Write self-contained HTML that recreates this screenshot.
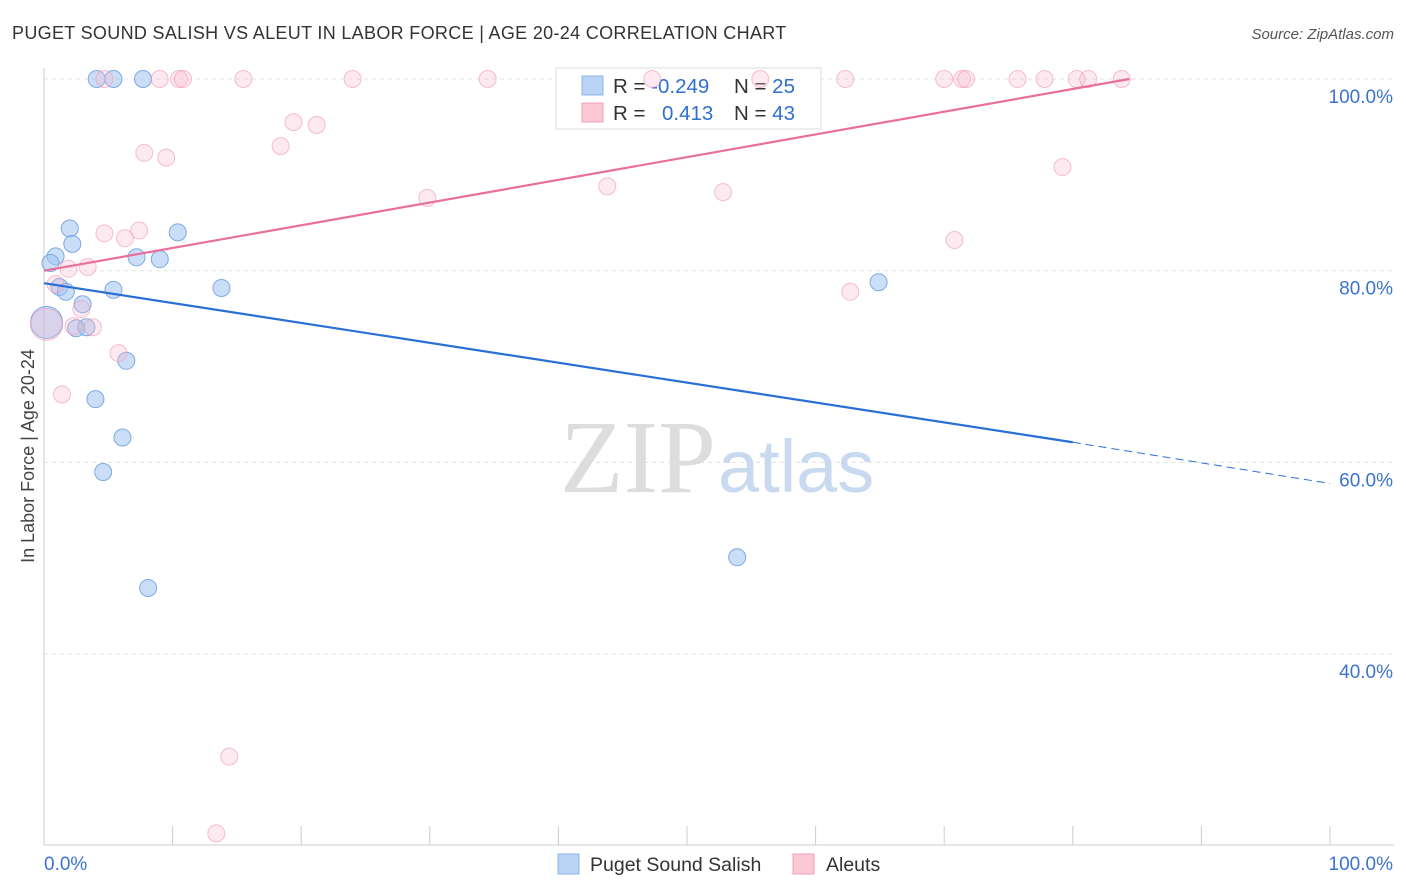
<!DOCTYPE html>
<html><head><meta charset="utf-8"><style>
body{margin:0;background:#fff;font-family:"Liberation Sans",sans-serif;}
svg{display:block}
</style></head><body>
<svg id="chart" width="1406" height="892">
<text x="12" y="39" font-size="18" fill="#333" letter-spacing="0.32">PUGET SOUND SALISH VS ALEUT IN LABOR FORCE | AGE 20-24 CORRELATION CHART</text>
<text x="1394" y="39" font-size="15" fill="#555" font-style="italic" text-anchor="end">Source: ZipAtlas.com</text>
<text x="34" y="456" font-size="18" fill="#444" transform="rotate(-90 34 456)" text-anchor="middle">In Labor Force | Age 20-24</text>
<g id="grid"></g>
<text x="716" y="492" font-size="104" fill="#ddd" text-anchor="end" font-family="Liberation Serif,serif">ZIP</text>
<text x="718" y="492" font-size="74" fill="#c9d9f0">atlas</text>
<g>
<rect x="556" y="68" width="265" height="61" fill="#fff" stroke="#ddd"/>
<rect x="582" y="76" width="21" height="19" fill="#b9d3f5" stroke="#8db4e8"/>
<rect x="582" y="103" width="21" height="19" fill="#fcc8d6" stroke="#f0a0b8"/>
<text x="613" y="93" font-size="20.5" fill="#333">R = <tspan fill="#2f6fd0">-0.249</tspan></text>
<text x="734" y="93" font-size="20.5" fill="#333">N = <tspan fill="#2f6fd0">25</tspan></text>
<text x="613" y="120" font-size="20.5" fill="#333">R = <tspan fill="#2f6fd0" x="662">0.413</tspan></text>
<text x="734" y="120" font-size="20.5" fill="#333">N = <tspan fill="#2f6fd0">43</tspan></text>
</g>
<g id="marks"></g>
<g>
<rect x="558" y="854" width="21" height="20" fill="#b9d3f5" stroke="#8db4e8"/>
<text x="590" y="871" font-size="19.5" fill="#333">Puget Sound Salish</text>
<rect x="793" y="854" width="21" height="20" fill="#fcc8d6" stroke="#f0a0b8"/>
<text x="826" y="871" font-size="19.5" fill="#333">Aleuts</text>
</g>
<text x="44" y="870" font-size="19" fill="#3b73d0">0.0%</text>
<text x="1393" y="870" font-size="19" fill="#3b73d0" text-anchor="end">100.0%</text>
</svg>
<script>
const yTicks=[100,80,60,40];
const blueX=[4.1,5.4,7.7,0.9,0.5,2.0,2.2,1.2,1.7,3.0,2.5,3.3,5.4,7.2,9.0,10.4,13.8,6.4,4.0,6.1,4.6,8.1,53.9,64.9,0.2];
const blueY=[100,100,100,81.5,80.8,84.4,82.8,78.3,77.8,76.5,74.0,74.1,78.0,81.4,81.2,84.0,78.2,70.6,66.6,62.6,59.0,46.9,50.1,78.8,74.6];
const pinkX=[4.7,9.0,10.5,10.8,15.5,24.0,34.5,47.3,55.7,62.3,70.0,71.4,71.7,75.7,77.8,80.3,81.2,83.8,19.4,21.2,18.4,7.8,9.5,29.8,43.8,52.8,79.2,70.8,62.7,4.7,6.3,7.4,1.9,3.4,0.9,2.9,2.3,3.8,5.8,1.4,14.4,13.4,0.2];
const pinkY=[100,100,100,100,100,100,100,100,100,100,100,100,100,100,100,100,100,100,95.5,95.2,93.0,92.3,91.8,87.6,88.8,88.2,90.8,83.2,77.8,83.9,83.4,84.2,80.2,80.4,78.6,76.0,74.2,74.1,71.4,67.1,29.3,21.3,74.4];
const blueTrend=[78.7,62.1,57.8]; // at x=0, 80, 100
const pinkTrend=[80.0,100]; // at x=0, 84.4
const pinkTrendEnd=84.4;
const X=v=>44+v*12.86, Y=v=>79+(100-v)*9.585;
const NS='http://www.w3.org/2000/svg';
const mk=(t,a,p)=>{const e=document.createElementNS(NS,t);for(const k in a)e.setAttribute(k,a[k]);p.appendChild(e);return e;};
const g=document.getElementById('grid'),m=document.getElementById('marks');
mk('line',{x1:44,y1:68,x2:44,y2:845,stroke:'#ccc'},g);
mk('line',{x1:44,y1:845,x2:1394,y2:845,stroke:'#ccc'},g);
for(let i=0;i<=10;i++){const l=mk('line',{x1:X(i*10),y1:826,x2:X(i*10),y2:845,stroke:'#ccc'},g);

}
yTicks.forEach(t=>{const l=mk('line',{x1:44,y1:Y(t),x2:1394,y2:Y(t),stroke:'#e3e3e3','stroke-dasharray':'4,4'},g);


const tx=mk('text',{x:1393,y:Y(t)+24,'font-size':19,fill:'#3b73d0','text-anchor':'end'},g);tx.textContent=t.toFixed(1)+'%';

});
blueX.forEach((v,i)=>{const big=i===blueX.length-1;const c=mk('circle',{cx:X(v),cy:Y(blueY[i]),r:big?16:8.5,fill:'rgba(160,195,240,0.55)',stroke:'#7fa9e2','stroke-width':1},m);

});
pinkX.forEach((v,i)=>{const big=i===pinkX.length-1;const c=mk('circle',{cx:X(v),cy:Y(pinkY[i]),r:big?16:8.5,fill:'rgba(248,185,205,0.3)',stroke:'rgba(240,150,180,0.6)','stroke-width':1},m);

});
let l=mk('line',{x1:X(0),y1:Y(blueTrend[0]),x2:X(80),y2:Y(blueTrend[1]),stroke:'#2a6fd6','stroke-width':2.2},m);


l=mk('line',{x1:X(80),y1:Y(blueTrend[1]),x2:X(100),y2:Y(blueTrend[2]),stroke:'#2a6fd6','stroke-width':1,'stroke-dasharray':'8,5'},m);


l=mk('line',{x1:X(0),y1:Y(pinkTrend[0]),x2:X(pinkTrendEnd),y2:Y(pinkTrend[1]),stroke:'#e8709a','stroke-width':2.2},m);


</script>
</body></html>
